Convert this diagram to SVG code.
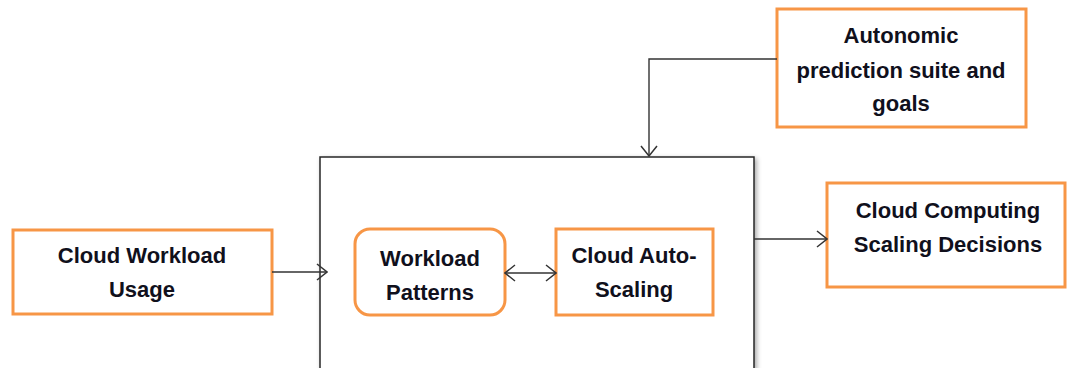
<svg xmlns="http://www.w3.org/2000/svg" width="1068" height="368" viewBox="0 0 1068 368">
  <style>
    .box { fill: #ffffff; stroke: #f79646; stroke-width: 3; }
    .frame { fill: #ffffff; stroke: #262626; stroke-width: 1.5; }
    .lbl { font-family: "Liberation Sans", Arial, sans-serif; font-weight: bold; font-size: 22px; fill: #10101c; text-anchor: middle; }
    .wire { fill: none; stroke: #333333; stroke-width: 1.4; }
  </style>
  <defs>
    <marker id="open" viewBox="0 0 12 18" refX="11" refY="9" markerWidth="12" markerHeight="18" markerUnits="userSpaceOnUse" orient="auto-start-reverse">
      <path d="M1,1 L11,9 L1,17" fill="none" stroke="#333333" stroke-width="1.5"/>
    </marker>
    <filter id="shadow" x="-5%" y="-5%" width="112%" height="115%">
      <feGaussianBlur in="SourceAlpha" stdDeviation="2.5"/>
      <feOffset dx="2" dy="2" result="b"/>
      <feComponentTransfer><feFuncA type="linear" slope="0.35"/></feComponentTransfer>
      <feMerge><feMergeNode/><feMergeNode in="SourceGraphic"/></feMerge>
    </filter>
  </defs>

  <!-- processing frame holding the inner stages -->
  <g id="frame">
    <rect class="frame" x="320" y="157" width="434" height="212" filter="url(#shadow)"/>
  </g>

  <g id="workload-usage">
    <rect class="box" x="13" y="230" width="259" height="84"/>
    <text class="lbl" x="142" y="263">Cloud Workload</text>
    <text class="lbl" x="142" y="297">Usage</text>
  </g>

  <g id="workload-patterns">
    <rect class="box" x="355" y="229" width="150" height="86" rx="15" ry="15"/>
    <text class="lbl" x="430" y="266">Workload</text>
    <text class="lbl" x="430" y="300">Patterns</text>
  </g>

  <g id="auto-scaling">
    <rect class="box" x="556" y="229" width="157" height="86"/>
    <text class="lbl" x="634" y="263">Cloud Auto-</text>
    <text class="lbl" x="634" y="297">Scaling</text>
  </g>

  <g id="prediction-suite">
    <rect class="box" x="777" y="9" width="249" height="118"/>
    <text class="lbl" x="901" y="43">Autonomic</text>
    <text class="lbl" x="901" y="78">prediction suite and</text>
    <text class="lbl" x="901" y="111">goals</text>
  </g>

  <g id="scaling-decisions">
    <rect class="box" x="827" y="183" width="238" height="104"/>
    <text class="lbl" x="948" y="218">Cloud Computing</text>
    <text class="lbl" x="948" y="252">Scaling Decisions</text>
  </g>

  <g id="connectors">
    <line class="wire" x1="272" y1="272" x2="327" y2="272" marker-end="url(#open)"/>
    <line class="wire" x1="505" y1="273" x2="556" y2="273" marker-start="url(#open)" marker-end="url(#open)"/>
    <line class="wire" x1="754" y1="239" x2="827" y2="239" marker-end="url(#open)"/>
    <polyline class="wire" points="777,59 649,59 649,156" marker-end="url(#open)"/>
  </g>
</svg>
